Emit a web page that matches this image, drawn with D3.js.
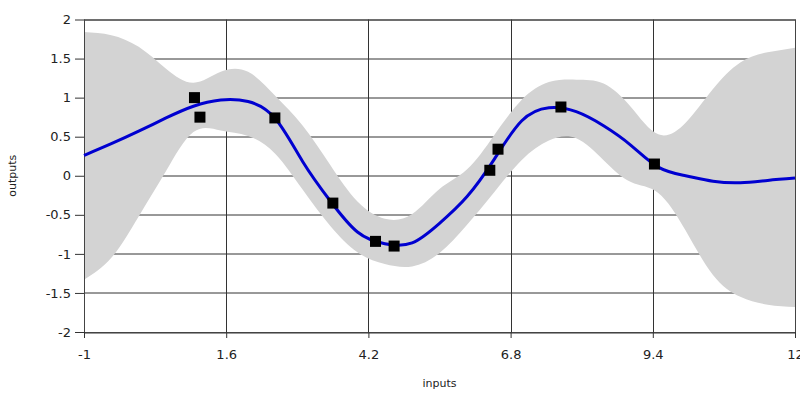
<!DOCTYPE html>
<html>
<head>
<meta charset="utf-8">
<script src="https://cdn.jsdelivr.net/npm/d3@7"></script>
<style>
  body { margin: 0; background: #fff; }
  text { font-family: "DejaVu Sans", Verdana, sans-serif; fill: #222; }
</style>
</head>
<body>
<div id="chart"></div>
<script>
// observed inputs / outputs (black squares)
var obsX = [1.02, 1.12, 2.49, 3.55, 4.33, 4.67, 6.42, 6.57, 7.72, 9.43];
var obsY = [1.00, 0.75, 0.74, -0.35, -0.84, -0.90, 0.07, 0.34, 0.88, 0.15];

// prediction grid (mean + band)
var gridX = [-1, -0.5, 0, 0.5, 1, 1.5, 2, 2.5, 3, 3.5, 4, 4.5, 5, 5.5, 6, 6.5, 7, 7.5, 8, 8.5, 9, 9.5, 10, 10.5, 11, 11.5, 12];
var meanY = [0.26, 0.41, 0.57, 0.74, 0.89, 0.97, 0.95, 0.73, 0.18, -0.32, -0.72, -0.87, -0.86, -0.61, -0.27, 0.21, 0.70, 0.87, 0.82, 0.64, 0.39, 0.11, 0.00, -0.07, -0.09, -0.06, -0.03];
var upperY = [1.84, 1.80, 1.65, 1.37, 1.19, 1.33, 1.33, 1.02, 0.64, 0.14, -0.33, -0.55, -0.49, -0.17, 0.08, 0.52, 0.97, 1.20, 1.23, 1.18, 0.88, 0.53, 0.68, 1.11, 1.45, 1.58, 1.64];
var lowerY = [-1.33, -1.05, -0.52, 0.06, 0.56, 0.58, 0.51, 0.28, -0.18, -0.64, -0.98, -1.13, -1.16, -0.99, -0.63, -0.21, 0.20, 0.45, 0.48, 0.20, -0.08, -0.22, -0.70, -1.27, -1.55, -1.65, -1.68];

var xTicks = [-1, 1.6, 4.2, 6.8, 9.4, 12];
var yTicks = [-2, -1.5, -1, -0.5, 0, 0.5, 1, 1.5, 2];

var svgWidth = 800;
var svgHeight = 394;
var margin = { top: 19.5, right: 5, bottom: 62, left: 84 };
var width = svgWidth - margin.left - margin.right;
var height = svgHeight - margin.top - margin.bottom;

var svg = d3.select("#chart")
  .append("svg")
  .attr("width", svgWidth)
  .attr("height", svgHeight);

var chartGroup = svg.append("g")
  .attr("transform", `translate(${margin.left}, ${margin.top})`);

var xScale = d3.scaleLinear().domain([-1, 12]).range([0, width]);
var yScale = d3.scaleLinear().domain([-2, 2]).range([height, 0]);

// grid lines
chartGroup.append("g")
  .selectAll("line.h")
  .data(yTicks)
  .enter()
  .append("line")
  .attr("x1", 0).attr("x2", width)
  .attr("y1", d => Math.round(yScale(d)) + 0.5)
  .attr("y2", d => Math.round(yScale(d)) + 0.5)
  .attr("stroke", "#333")
  .attr("stroke-width", 1);

chartGroup.append("g")
  .selectAll("line.v")
  .data(xTicks)
  .enter()
  .append("line")
  .attr("x1", d => Math.round(xScale(d)) + 0.5)
  .attr("x2", d => Math.round(xScale(d)) + 0.5)
  .attr("y1", 0).attr("y2", height)
  .attr("stroke", "#333")
  .attr("stroke-width", 1);

// uncertainty band
var band = gridX.map((x, i) => ({ x: x, lo: lowerY[i], hi: upperY[i], m: meanY[i] }));

var area = d3.area()
  .x(d => xScale(d.x))
  .y0(d => yScale(d.lo))
  .y1(d => yScale(d.hi))
  .curve(d3.curveNatural);

chartGroup.append("path")
  .datum(band)
  .attr("d", area)
  .attr("fill", "#d3d3d3");

// frame
chartGroup.append("rect")
  .attr("x", 0.5).attr("y", 0.5)
  .attr("width", width).attr("height", height)
  .attr("fill", "none")
  .attr("stroke", "#444");

// mean line
var line = d3.line()
  .x(d => xScale(d.x))
  .y(d => yScale(d.m))
  .curve(d3.curveNatural);

chartGroup.append("path")
  .datum(band)
  .attr("d", line)
  .attr("fill", "none")
  .attr("stroke", "#0000d0")
  .attr("stroke-width", 3);

// observations
var obs = obsX.map((x, i) => ({ x: x, y: obsY[i] }));
chartGroup.selectAll("rect.obs")
  .data(obs)
  .enter()
  .append("rect")
  .attr("class", "obs")
  .attr("x", d => xScale(d.x) - 5.5)
  .attr("y", d => yScale(d.y) - 5.5)
  .attr("width", 11)
  .attr("height", 11)
  .attr("fill", "#000");

// axes
var fmt = d => String(d);
var xAxis = d3.axisBottom(xScale).tickValues(xTicks).tickSize(6).tickPadding(12).tickFormat(fmt);
var yAxis = d3.axisLeft(yScale).tickValues(yTicks).tickSize(9).tickPadding(4).tickFormat(fmt);

var gx = chartGroup.append("g")
  .attr("transform", `translate(0, ${height})`)
  .call(xAxis);
var gy = chartGroup.append("g")
  .call(yAxis);

[gx, gy].forEach(function(g) {
  g.select(".domain").remove();
  g.selectAll("line").attr("stroke", "#333");
  g.selectAll("text").style("font-size", "13px").attr("fill", "#222")
    .style("font-family", "'DejaVu Sans', Verdana, sans-serif");
});

// axis labels
chartGroup.append("text")
  .attr("transform", "rotate(-90)")
  .attr("x", -height / 2)
  .attr("y", 12 - margin.left + 4)
  .attr("text-anchor", "middle")
  .style("font-size", "11px")
  .text("outputs");

chartGroup.append("text")
  .attr("x", width / 2)
  .attr("y", height + 55)
  .attr("text-anchor", "middle")
  .style("font-size", "11px")
  .text("inputs");
</script>
</body>
</html>
